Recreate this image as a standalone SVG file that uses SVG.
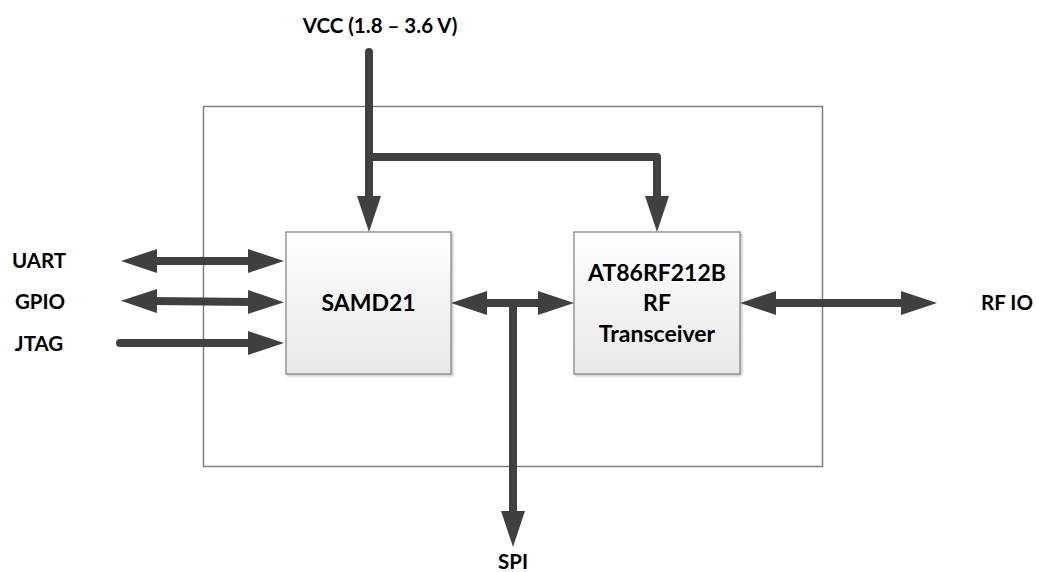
<svg xmlns="http://www.w3.org/2000/svg" width="1039" height="572" viewBox="0 0 1039 572">
<style>
.lbl{font-family:Lato,"Open Sans",sans-serif;font-weight:bold;fill:#000;text-anchor:middle}
.ext{font-size:20.5px}
.node{font-size:23px}
.box{fill:url(#g);stroke:#7f7f7f;stroke-width:1.2;filter:url(#sh)}
.c{fill:none;stroke:#404040;stroke-width:8;stroke-linejoin:round}
</style>
<defs>
<linearGradient id="g" x1="0" y1="0" x2="0" y2="1">
<stop offset="0" stop-color="#ffffff"/>
<stop offset="1" stop-color="#e8e8e8"/>
</linearGradient>
<filter id="sh" x="-10%" y="-10%" width="120%" height="120%">
<feDropShadow dx="1.5" dy="1.5" stdDeviation="1" flood-color="#000" flood-opacity="0.25"/>
</filter>
<marker id="ah" viewBox="0 -12 36 24" markerWidth="36" markerHeight="24" refX="6" refY="0" markerUnits="userSpaceOnUse" orient="auto-start-reverse">
<path d="M0,-12 L36,0 L0,12 z" fill="#404040"/>
</marker>
</defs>
<rect id="frame" x="203.5" y="106.5" width="619" height="360" fill="#fff" stroke="#808080" stroke-width="1.5"/>
<g id="samd21">
<rect class="box" x="286" y="232" width="165" height="142"/>
<text class="lbl node" x="368.5" y="311">SAMD21</text>
</g>
<g id="at86rf212b">
<rect class="box" x="574" y="232" width="166" height="142"/>
<text class="lbl node" x="657" y="281">AT86RF212B</text>
<text class="lbl node" x="657" y="311">RF</text>
<text class="lbl node" x="657" y="342">Transceiver</text>
</g>
<g id="labels">
<text class="lbl" x="380" y="33" style="font-size:20.5px">VCC (1.8 – 3.6 V)</text>
<text class="lbl ext" x="39" y="268">UART</text>
<text class="lbl ext" x="40" y="309">GPIO</text>
<text class="lbl ext" x="39" y="351">JTAG</text>
<text class="lbl ext" x="1007" y="310">RF IO</text>
<text class="lbl ext" x="513" y="569">SPI</text>
</g>
<g id="connectors">
<path class="c" d="M369,52 V202" stroke-linecap="round" marker-end="url(#ah)"/>
<path class="c" d="M369,157 H657 V202" marker-end="url(#ah)"/>
<path class="c" d="M151,261 H254" marker-start="url(#ah)" marker-end="url(#ah)"/>
<path class="c" d="M151,301 L254,302" marker-start="url(#ah)" marker-end="url(#ah)"/>
<path class="c" d="M120,343 H254" stroke-linecap="round" marker-end="url(#ah)"/>
<path class="c" d="M481,303 H544" marker-start="url(#ah)" marker-end="url(#ah)"/>
<path class="c" d="M513,303 V517" marker-end="url(#ah)"/>
<path class="c" d="M770,303 H907" marker-start="url(#ah)" marker-end="url(#ah)"/>
</g>
</svg>
